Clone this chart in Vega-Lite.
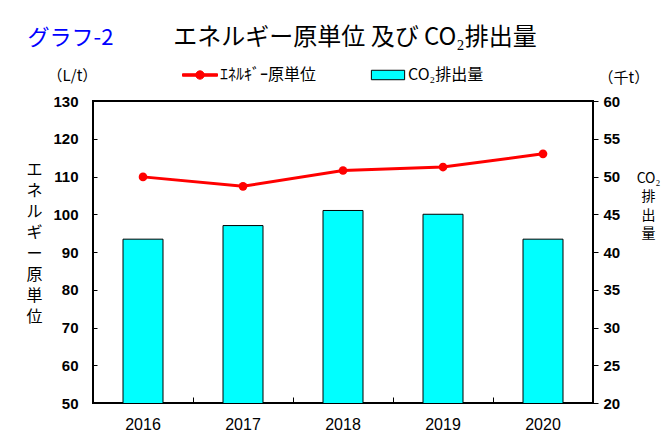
{
  "$schema": "https://vega.github.io/schema/vega-lite/v6.json",
  "width": 500,
  "height": 302,
  "autosize": {"type": "none"},
  "padding": {"left": 93, "top": 101, "right": 77, "bottom": 44},
  "background": "white",
  "title": {
    "text": "エネルギー原単位 及び CO₂排出量",
    "font": "Noto Sans CJK JP",
    "fontSize": 24,
    "fontWeight": "normal",
    "color": "black",
    "anchor": "middle",
    "frame": "group",
    "baseline": "middle",
    "dx": 12,
    "offset": -36
  },
  "datasets": {
    "main": [
      {"year": "2016", "energy": 109.9, "co2": 41.7},
      {"year": "2017", "energy": 107.4, "co2": 43.5},
      {"year": "2018", "energy": 111.6, "co2": 45.5},
      {"year": "2019", "energy": 112.5, "co2": 45.0},
      {"year": "2020", "energy": 116.0, "co2": 41.7}
    ],
    "legend": [
      {"s": "ｴﾈﾙｷﾞｰ原単位"},
      {"s": "CO₂排出量"}
    ]
  },
  "layer": [
    {
      "data": {"name": "main"},
      "mark": {"type": "bar", "fill": "#00ffff", "stroke": "black", "strokeWidth": 1, "width": {"band": 0.4}, "clip": true},
      "encoding": {
        "x": {
          "field": "year", "type": "ordinal",
          "scale": {"paddingInner": 0, "paddingOuter": 0},
          "axis": {
            "orient": "bottom", "title": null, "labelAngle": 0, "bandPosition": 0,
            "tickSize": -6, "tickColor": "black", "labelPadding": 19,
            "labelFont": "Liberation Sans", "labelFontSize": 16, "labelColor": "black"
          }
        },
        "y": {
          "field": "co2", "type": "quantitative",
          "scale": {"domain": [20, 60], "nice": false, "zero": false},
          "axis": {
            "orient": "right", "values": [20, 25, 30, 35, 40, 45, 50, 55, 60],
            "tickSize": 5, "tickColor": "black", "labelPadding": 5,
            "labelFont": "Liberation Sans", "labelFontSize": 15, "labelFontWeight": "bold", "labelColor": "black",
            "title": ["CO₂", "排", "出", "量"],
            "titleAngle": 0, "titleAlign": "center", "titleBaseline": "top",
            "titleX": 55, "titleY": 70,
            "titleFont": "Noto Sans CJK JP", "titleFontSize": 14, "titleFontWeight": "normal",
            "titleColor": "black", "titleLineHeight": 18.5
          }
        }
      }
    },
    {
      "data": {"name": "main"},
      "mark": {"type": "line", "color": "#ff0000", "strokeWidth": 3,
               "point": {"filled": true, "size": 75, "color": "#ff0000"}},
      "encoding": {
        "x": {
          "field": "year", "type": "ordinal",
          "axis": {
            "orient": "top", "title": "グラフ-2", "labels": false, "ticks": false, "domain": false,
            "titleX": -66, "titleY": -64, "titleAlign": "left", "titleBaseline": "middle", "titleAngle": 0,
            "titleColor": "#0000ff", "titleFont": "Noto Sans CJK JP", "titleFontSize": 22, "titleFontWeight": "normal"
          }
        },
        "y": {
          "field": "energy", "type": "quantitative",
          "scale": {"domain": [50, 130], "nice": false, "zero": false},
          "axis": {
            "orient": "left", "values": [50, 60, 70, 80, 90, 100, 110, 120, 130],
            "tickSize": -4, "tickColor": "black", "labelPadding": 19,
            "labelFont": "Liberation Sans", "labelFontSize": 15, "labelFontWeight": "bold", "labelColor": "black",
            "title": ["エ", "ネ", "ル", "ギ", "ー", "原", "単", "位"],
            "titleAngle": 0, "titleAlign": "center", "titleBaseline": "top",
            "titleX": -59, "titleY": 60,
            "titleFont": "Noto Sans CJK JP", "titleFontSize": 16, "titleFontWeight": "normal",
            "titleColor": "black", "titleLineHeight": 21
          }
        }
      }
    },
    {
      "data": {"name": "legend"},
      "mark": {"type": "point", "opacity": 0, "filled": true},
      "encoding": {
        "fill": {
          "field": "s", "type": "nominal",
          "scale": {"domain": ["ｴﾈﾙｷﾞｰ原単位", "CO₂排出量"], "range": ["#ff0000", "#00ffff"]},
          "legend": {"title": null, "orient": "none", "legendX": 89, "legendY": -44, "direction": "horizontal",
                     "columnPadding": 52, "labelOffset": 2, "labelFont": "Noto Sans CJK JP", "labelFontSize": 16,
                     "labelColor": "black", "symbolSize": 1225, "symbolStrokeWidth": 1, "symbolOpacity": 1,
                     "padding": 0, "labelLimit": 300}
        },
        "stroke": {
          "field": "s", "type": "nominal",
          "scale": {"domain": ["ｴﾈﾙｷﾞｰ原単位", "CO₂排出量"], "range": ["#ff0000", "#000000"]},
          "legend": {"title": null, "orient": "none", "legendX": 89, "legendY": -44, "direction": "horizontal",
                     "columnPadding": 52, "labelOffset": 2, "labelFont": "Noto Sans CJK JP", "labelFontSize": 16,
                     "labelColor": "black", "symbolSize": 1225, "symbolStrokeWidth": 1, "symbolOpacity": 1,
                     "padding": 0, "labelLimit": 300}
        },
        "shape": {
          "field": "s", "type": "nominal",
          "scale": {"domain": ["ｴﾈﾙｷﾞｰ原単位", "CO₂排出量"],
                    "range": ["M-1,-0.07H1V0.07H-1Z M-0.24,0A0.24,0.24 0 1,1 0.24,0A0.24,0.24 0 1,1 -0.24,0Z",
                              "M-0.95,-0.27H0.95V0.27H-0.95Z"]},
          "legend": {"title": null, "orient": "none", "legendX": 89, "legendY": -44, "direction": "horizontal",
                     "columnPadding": 52, "labelOffset": 2, "labelFont": "Noto Sans CJK JP", "labelFontSize": 16,
                     "labelColor": "black", "symbolSize": 1225, "symbolStrokeWidth": 1, "symbolOpacity": 1,
                     "padding": 0, "labelLimit": 300}
        }
      }
    },
    {
      "data": {"name": "main"},
      "mark": {"type": "tick", "opacity": 0},
      "encoding": {
        "x": {
          "field": "year", "type": "ordinal",
          "axis": {
            "orient": "top", "title": "（L/t）", "labels": false, "ticks": false, "domain": false,
            "titleX": -46, "titleY": -26, "titleAlign": "left", "titleBaseline": "middle", "titleAngle": 0,
            "titleColor": "black", "titleFont": "Noto Sans CJK JP", "titleFontSize": 15, "titleFontWeight": "normal"
          }
        }
      }
    },
    {
      "data": {"name": "main"},
      "mark": {"type": "tick", "opacity": 0},
      "encoding": {
        "x": {
          "field": "year", "type": "ordinal",
          "axis": {
            "orient": "top", "title": "（千t）", "labels": false, "ticks": false, "domain": false,
            "titleX": 505, "titleY": -24, "titleAlign": "left", "titleBaseline": "middle", "titleAngle": 0,
            "titleColor": "black", "titleFont": "Noto Sans CJK JP", "titleFontSize": 15, "titleFontWeight": "normal"
          }
        }
      }
    }
  ],
  "resolve": {
    "scale": {"y": "independent"},
    "axis": {"x": "independent", "y": "independent"}
  },
  "config": {
    "view": {"fill": "#ccffcc", "stroke": "black", "strokeWidth": 2},
    "axis": {"grid": false, "domain": false}
  }
}
